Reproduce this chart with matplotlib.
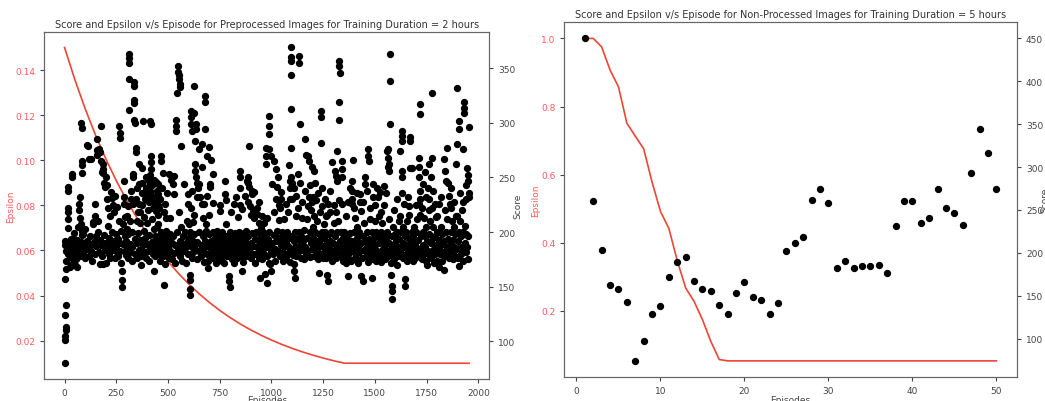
import matplotlib
matplotlib.use("Agg")
import matplotlib.pyplot as plt

# ---------------- Left chart data (Preprocessed, 2 hours) ----------------
eps_left_episodes = [0, 50, 100, 150, 200, 250, 300, 350, 400, 450, 500, 550, 600, 650, 700,
                     750, 800, 850, 900, 950, 1000, 1050, 1100, 1150, 1200, 1250, 1300, 1350,
                     1353, 1955]
eps_left_values = [0.15, 0.13571, 0.12279, 0.11109, 0.10051, 0.09094, 0.08228, 0.07444, 0.06735,
                   0.06093, 0.05513, 0.04988, 0.04513, 0.04083, 0.03694, 0.03342, 0.03024, 0.02736,
                   0.02475, 0.02240, 0.02026, 0.01833, 0.01659, 0.01501, 0.01358, 0.01228, 0.01111,
                   0.01006, 0.01, 0.01]

scores_0_250 = [(0,80),(3,101),(4,105),(6,110),(7,113),(4,124),(5,133),(3,157),(5,166),(2,188),(4,192),(8,174),(8,183),(11,189),(19,212),(19,204),(17,222),(17,218),(19,241),(19,238),(35,250),(35,253),(16,180),(18,186),(22,191),(25,178),(28,184),(31,194),(34,176),(37,186),(40,181),(43,189),(46,172),(48,194),(26,168),(33,170),(45,199),(52,170),(56,175),(60,168),(54,182),(58,188),(62,193),(66,180),(70,186),(74,178),(78,191),(82,184),(86,197),(90,181),(94,188),(98,176),(70,226),(72,220),(74,213),(76,232),(80,207),(84,201),(88,198),(82,300),(84,295),(84,265),(85,261),(84,254),(64,205),(92,190),
    (100,203),(104,185),(108,280),(110,192),(113,279),(116,178),(118,267),(122,188),(125,196),(128,267),(130,183),(134,174),(137,209),(140,207),(143,191),(145,226),(146,215),(148,180),(150,187),(152,196),(156,285),(156,275),(157,271),(160,210),(162,200),(165,182),(168,276),(170,273),(170,171),(172,193),(175,188),(178,297),(178,265),(180,255),(182,178),(185,171),(186,262),(187,258),(188,254),(190,245),(192,197),(195,184),(196,241),(198,190),(200,172),(202,250),(204,230),(206,243),(208,222),(210,206),(212,186),(214,195),(216,180),(218,215),(220,189),(222,176),(225,237),(228,200),(230,231),(232,184),(235,225),(238,192),(240,218),(242,176),(245,233),(248,187),(250,198)]

scores_250_500 = [(252,182),(255,223),(258,194),(260,178),(262,210),(265,297),(266,291),(267,286),(268,190),(270,183),(272,201),(274,172),(276,156),(278,150),(280,164),(282,189),(284,207),(286,232),(288,247),(288,226),(290,196),(292,183),(294,214),(296,179),(298,192),(300,203),(302,186),(305,176),(308,198),(310,363),(312,359),(313,355),(313,340),(313,312),(315,189),(318,182),(320,238),(322,230),(324,174),(326,200),(328,186),(329,253),(330,250),(332,226),(334,337),(335,334),(336,321),(337,318),(338,303),(339,300),(340,194),(342,180),(345,277),(347,273),(348,210),(350,190),(352,176),(354,218),(356,199),(358,184),(361,262),(362,244),(364,208),(366,193),(368,178),(370,170),(372,236),(374,259),(376,225),(378,302),(380,188),(382,201),(384,182),(386,214),(388,195),(390,230),(392,176),(395,240),(396,232),(398,189),(400,208),(402,183),(404,220),(405,248),(406,197),(408,174),(410,228),(412,185),(412,238),(415,302),(418,270),(418,264),(419,258),(420,299),(422,191),(424,243),(425,212),(426,222),(428,180),(430,203),(432,188),(432,230),(434,164),(436,196),(438,178),(440,219),(440,246),(442,185),(444,226),(445,205),(448,192),(450,244),(451,235),(452,225),(452,216),(453,207),(455,180),(458,196),(460,187),(462,174),(463,230),(466,270),(467,265),(468,200),(470,185),(472,193),(474,254),(476,178),(478,188),(479,218),(480,197),(482,152),(484,183),(486,171),(488,201),(490,213),(492,190),(494,236),(495,180),(498,194)]

scores_500_750 = [(500,186),(503,176),(506,253),(508,198),(510,213),(512,183),(515,248),(518,190),(520,175),(522,244),(525,196),(528,181),(530,251),(531,235),(533,188),(535,172),(538,303),(539,297),(540,293),(542,200),(545,327),(546,184),(548,352),(550,347),(552,344),(554,340),(556,336),(558,333),(555,218),(557,192),(560,178),(563,279),(565,205),(568,188),(570,174),(573,196),(576,183),(579,244),(582,200),(585,186),(588,172),(590,210),(593,191),(595,235),(596,226),(598,180),(600,195),(603,207),(604,161),(605,156),(606,148),(607,142),(608,200),(610,187),(611,311),(612,305),(613,299),(614,293),(616,176),(618,193),(620,182),(622,209),(624,309),(626,198),(627,334),(628,186),(630,283),(631,262),(632,256),(634,299),(635,294),(636,250),(638,245),(640,175),(642,191),(645,240),(648,183),(650,276),(652,200),(655,232),(658,178),(660,188),(663,260),(665,281),(667,196),(670,184),(672,226),(675,173),(677,192),(679,325),(680,319),(681,294),(682,207),(684,201),(686,189),(688,180),(690,270),(692,174),(694,167),(696,186),(698,198),(700,278),(702,244),(704,241),(706,180),(708,192),(710,266),(712,185),(715,176),(718,200),(719,253),(722,188),(725,179),(728,195),(730,183),(733,172),(736,190),(738,201),(740,185),(743,177),(746,196),(748,188)]

scores_750_1000 = [(750,225),(752,219),(754,182),(756,194),(758,176),(760,174),(762,200),(764,189),(766,180),(768,197),(770,185),(772,172),(774,192),(776,247),(777,235),(778,229),(779,207),(780,183),(783,196),(786,178),(789,190),(792,186),(795,160),(797,155),(799,150),(800,200),(802,193),(805,181),(808,175),(810,190),(812,197),(815,184),(818,172),(820,189),(823,199),(826,180),(829,193),(832,186),(835,176),(838,195),(840,188),(843,200),(846,182),(848,256),(849,250),(850,225),(852,191),(855,178),(856,164),(858,196),(860,185),(863,173),(866,199),(868,188),(870,181),(873,192),(876,178),(879,201),(882,186),(885,196),(887,250),(889,245),(890,241),(892,279),(894,182),(897,224),(900,190),(903,176),(905,238),(906,235),(908,199),(910,220),(912,187),(915,180),(918,213),(920,194),(922,172),(925,200),(928,186),(930,217),(932,180),(935,193),(938,176),(940,208),(942,188),(945,158),(946,198),(948,182),(950,204),(952,192),(955,175),(958,200),(960,185),(963,196),(966,180),(968,162),(970,190),(975,277),(975,270),(976,262),(977,213),(978,178),(980,153),(982,194),(984,186),(986,172),(988,200),(989,306),(989,297),(990,290),(990,276),(992,188),(994,171),(996,164),(998,183)]

scores_1000_1250 = [(1000,270),(1003,190),(1005,244),(1008,180),(1010,265),(1012,197),(1015,185),(1018,174),(1020,258),(1022,192),(1025,241),(1027,201),(1030,250),(1032,183),(1035,211),(1038,195),(1040,178),(1042,222),(1045,188),(1048,230),(1050,200),(1052,181),(1055,193),(1058,174),(1060,186),(1063,198),(1066,180),(1069,191),(1072,175),(1075,200),(1078,187),(1080,180),(1083,195),(1086,261),(1088,184),(1089,230),(1090,247),(1091,240),(1092,173),(1094,369),(1095,360),(1096,357),(1094,344),(1094,313),(1094,277),(1094,250),(1097,196),(1100,245),(1102,185),(1105,179),(1108,192),(1110,240),(1110,171),(1111,164),(1112,158),(1114,200),(1116,186),(1118,233),(1120,178),(1123,194),(1126,253),(1128,182),(1131,200),(1134,361),(1135,355),(1136,299),(1138,188),(1140,245),(1142,176),(1145,196),(1148,184),(1150,228),(1152,192),(1155,175),(1158,202),(1160,238),(1162,285),(1164,186),(1166,271),(1168,180),(1170,212),(1172,195),(1175,270),(1178,183),(1180,232),(1182,265),(1185,200),(1188,177),(1190,220),(1192,190),(1195,260),(1196,228),(1198,185),(1200,205),(1202,195),(1205,256),(1206,178),(1208,215),(1210,188),(1212,200),(1215,229),(1217,182),(1220,192),(1222,210),(1225,175),(1228,198),(1230,163),(1231,186),(1233,218),(1235,193),(1237,180),(1239,311),(1240,305),(1239,282),(1242,200),(1245,224),(1247,187),(1249,176)]

scores_1250_1500 = [(1252,195),(1255,207),(1258,183),(1260,200),(1262,176),(1265,215),(1268,190),(1270,161),(1271,155),(1273,186),(1275,226),(1277,198),(1280,178),(1283,192),(1285,218),(1288,184),(1290,200),(1293,174),(1295,264),(1297,190),(1300,208),(1302,180),(1305,256),(1307,196),(1310,185),(1312,251),(1314,176),(1316,247),(1318,200),(1319,274),(1320,188),(1322,210),(1324,180),(1327,357),(1328,352),(1329,346),(1327,319),(1327,303),(1327,229),(1330,192),(1332,178),(1335,200),(1337,186),(1339,265),(1340,258),(1341,250),(1342,226),(1344,174),(1346,195),(1349,183),(1352,200),(1355,178),(1358,190),(1360,172),(1362,197),(1365,185),(1368,176),(1371,160),(1373,193),(1376,181),(1379,199),(1382,187),(1385,174),(1387,247),(1388,238),(1389,230),(1390,226),(1392,192),(1395,266),(1397,183),(1400,200),(1402,176),(1405,213),(1408,188),(1410,180),(1412,205),(1415,195),(1418,172),(1420,186),(1422,200),(1425,182),(1427,235),(1429,228),(1431,219),(1433,190),(1435,160),(1437,176),(1440,155),(1443,196),(1446,184),(1449,208),(1452,250),(1453,244),(1455,192),(1458,178),(1460,200),(1462,186),(1465,173),(1468,276),(1468,270),(1469,265),(1471,194),(1474,182),(1477,222),(1480,190),(1482,175),(1484,158),(1486,200),(1488,185),(1490,232),(1492,244),(1494,195),(1496,180),(1498,210)]

scores_1500_1750 = [(1500,188),(1503,174),(1506,200),(1508,240),(1510,183),(1513,196),(1516,178),(1518,215),(1520,190),(1523,237),(1525,182),(1528,200),(1530,173),(1533,193),(1536,208),(1538,185),(1540,178),(1543,198),(1546,242),(1548,188),(1550,175),(1552,236),(1554,195),(1556,274),(1557,183),(1560,200),(1562,260),(1563,178),(1565,276),(1565,268),(1566,262),(1566,256),(1568,190),(1570,212),(1573,363),(1573,338),(1574,299),(1576,185),(1578,172),(1580,161),(1581,151),(1582,139),(1582,146),(1584,196),(1586,180),(1588,205),(1590,188),(1593,175),(1596,198),(1599,183),(1602,192),(1605,170),(1608,200),(1610,186),(1613,178),(1616,210),(1618,194),(1621,274),(1623,182),(1626,200),(1629,293),(1630,288),(1631,283),(1630,256),(1631,250),(1632,236),(1634,190),(1636,176),(1638,205),(1640,186),(1643,196),(1645,157),(1646,151),(1648,180),(1650,200),(1652,188),(1655,174),(1658,195),(1661,232),(1663,224),(1665,216),(1667,183),(1669,287),(1670,283),(1671,259),(1673,192),(1675,178),(1677,259),(1679,200),(1681,186),(1683,174),(1685,196),(1688,182),(1690,205),(1692,190),(1695,176),(1698,200),(1700,186),(1703,212),(1706,193),(1709,180),(1711,226),(1713,268),(1714,260),(1715,250),(1716,238),(1718,317),(1718,308),(1720,230),(1722,196),(1724,184),(1726,222),(1728,175),(1730,200),(1732,244),(1734,188),(1736,213),(1738,180),(1740,196),(1742,255),(1744,186),(1746,205),(1748,174)]

scores_1750_1955 = [(1750,192),(1753,170),(1755,240),(1757,183),(1759,262),(1761,198),(1763,230),(1765,178),(1767,210),(1769,190),(1771,250),(1773,176),(1775,222),(1777,327),(1777,268),(1779,195),(1781,184),(1783,205),(1785,172),(1788,196),(1790,180),(1793,214),(1796,188),(1799,174),(1802,200),(1805,185),(1808,168),(1810,226),(1812,193),(1815,180),(1818,205),(1820,188),(1823,174),(1826,198),(1829,182),(1832,165),(1834,267),(1836,192),(1838,256),(1840,178),(1842,247),(1844,200),(1846,186),(1848,212),(1850,277),(1852,180),(1855,194),(1858,233),(1860,176),(1862,226),(1864,188),(1866,222),(1868,200),(1870,183),(1872,210),(1875,175),(1878,193),(1880,186),(1882,205),(1885,178),(1888,198),(1890,262),(1892,185),(1895,215),(1898,332),(1898,281),(1900,192),(1902,176),(1904,200),(1906,302),(1907,294),(1906,169),(1909,186),(1912,210),(1914,180),(1917,196),(1920,220),(1922,184),(1925,200),(1927,276),(1928,174),(1930,319),(1930,314),(1931,309),(1933,190),(1935,206),(1938,182),(1940,198),(1942,230),(1944,186),(1947,259),(1948,175),(1949,252),(1950,247),(1952,196),(1954,236),(1955,296),(1955,232)]

scores_mid_range = [(300,215),(306,224),(318,210),(345,230),(352,240),(360,226),(366,218),(376,245),(384,236),(392,250),(400,229),(408,242),(414,252),(420,234),(430,248),(436,226),(446,238),(456,222),(470,240),(486,226),
    (610,222),(618,238),(628,216),(640,232),(652,244),(662,226),(668,213),(690,233),(700,216),(716,227),
    (806,218),(818,226),(828,232),(836,214),(846,240),(860,221),(872,233),(880,247),(888,228),(902,216),(918,237),(928,222),(938,228),(952,215),(962,208),
    (1010,218),(1020,230),(1035,225),(1045,237),(1060,212),(1070,226),(1080,218),(1100,230),(1120,215),(1130,222),(1150,213),(1175,224),(1188,243),(1200,232),(1212,245),(1226,236),(1244,240),(1258,230),(1270,216),(1282,238),(1300,225),(1310,218),
    (1360,215),(1370,228),(1380,240),(1400,222),(1415,236),(1440,228),(1460,238),(1475,212),(1500,225),(1515,232),(1530,218),(1545,225),(1590,220),(1605,230),(1620,215),(1640,226),(1655,210),(1700,225),(1720,216),(1745,232),(1760,220),(1780,238),(1790,226),(1800,215),(1820,232),(1840,220),(1855,245),(1870,240),(1880,228),(1890,215),(1910,236),(1925,228),(1940,243)]

# ---------------- Right chart data (Non-processed, 5 hours) ----------------
right_episodes = list(range(1, 51))
right_scores = [450, 260, 203, 162, 158, 143, 74, 97, 129, 138,
                172, 189, 195, 167, 158, 155, 139, 129, 153, 166,
                149, 145, 129, 141, 202, 212, 218, 262, 274, 258,
                182, 190, 182, 185, 185, 186, 176, 231, 260, 260,
                235, 241, 275, 252, 246, 233, 293, 344, 316, 274]
right_eps = [1.0, 1.0, 0.975, 0.907, 0.858, 0.751, 0.713, 0.676, 0.578, 0.492,
             0.442, 0.347, 0.267, 0.228, 0.174, 0.110, 0.057, 0.053, 0.053, 0.053,
             0.053, 0.053, 0.053, 0.053, 0.053, 0.053, 0.053, 0.053, 0.053, 0.053,
             0.053, 0.053, 0.053, 0.053, 0.053, 0.053, 0.053, 0.053, 0.053, 0.053,
             0.053, 0.053, 0.053, 0.053, 0.053, 0.053, 0.053, 0.053, 0.053, 0.053]

left_points = (scores_0_250 + scores_250_500 + scores_500_750 + scores_750_1000 +
               scores_1000_1250 + scores_1250_1500 + scores_1500_1750 + scores_1750_1955 +
               scores_mid_range)
left_x = [p[0] for p in left_points]
left_y = [p[1] for p in left_points]

RED_LINE = '#ee4536'
RED_TEXT = '#ff5a5a'
GRAY = '#444444'
SPINE = '#666666'

plt.rcParams['font.family'] = ['DejaVu Sans']
fig = plt.figure(figsize=(10.45, 4.02), dpi=100)

def style(ax_l, ax_r):
    for ax in (ax_l, ax_r):
        for s in ax.spines.values():
            s.set_color(SPINE)
        ax.tick_params(labelsize=6.5, colors=GRAY, length=3, width=0.8)
    ax_l.tick_params(axis='y', labelcolor=RED_TEXT)

# Left chart
axL = fig.add_axes([44.3/1045, 22/402, 445/1045, 347.3/402])
axL.plot(eps_left_episodes, eps_left_values, color=RED_LINE, lw=1.2)
axL.set_ylabel('Epsilon', color=RED_TEXT, fontsize=6.5)
axL.yaxis.set_label_coords(-0.066, 0.5)
axL.set_xlabel('Episodes', color=GRAY, fontsize=6.5)
axL.xaxis.set_label_coords(0.5, -0.047)
axL.set_title('Score and Epsilon v/s Episode for Preprocessed Images for Training Duration = 2 hours',
              fontsize=7, color='#333333', pad=3.5)
axL2 = axL.twinx()
axL2.scatter(left_x, left_y, s=18, color='black', zorder=3)
axL2.set_ylabel('Score', color=GRAY, fontsize=6.5)
axL2.yaxis.set_label_coords(1.054, 0.5)
style(axL, axL2)

# Right chart
axR = fig.add_axes([564.3/1045, 24/402, 452.7/1045, 354.7/402])
axR.plot(right_episodes, right_eps, color=RED_LINE, lw=1.2)
axR.set_ylabel('Epsilon', color=RED_TEXT, fontsize=6.5)
axR.yaxis.set_label_coords(-0.054, 0.5)
axR.set_xlabel('Episodes', color=GRAY, fontsize=6.5)
axR.xaxis.set_label_coords(0.5, -0.051)
axR.set_title('Score and Epsilon v/s Episode for Non-Processed Images for Training Duration = 5 hours',
              fontsize=7, color='#333333', pad=3.5)
axR2 = axR.twinx()
axR2.scatter(right_episodes, right_scores, s=18, color='black', zorder=3)
axR2.set_ylabel('Score', color=GRAY, fontsize=6.5)
axR2.yaxis.set_label_coords(1.051, 0.5)
style(axR, axR2)

fig.savefig('out.png', dpi=100)
